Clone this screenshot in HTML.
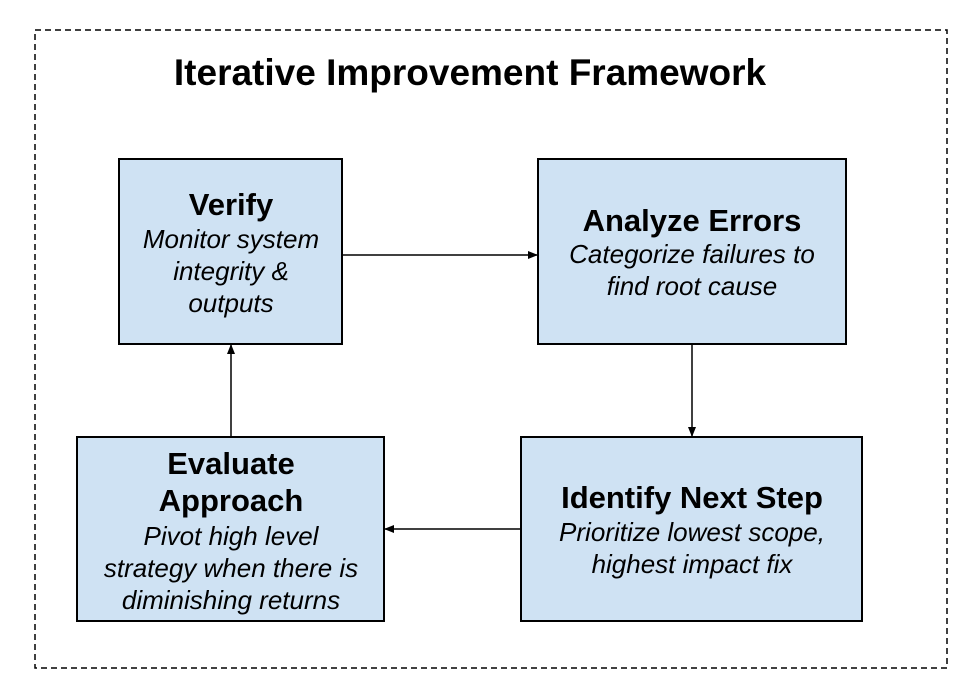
<!DOCTYPE html>
<html><head><style>body{margin:0;background:#fff}svg{display:block}</style></head><body>
<svg width="978" height="699" xmlns="http://www.w3.org/2000/svg" font-family="Liberation Sans, Arial, sans-serif">
<defs><marker id="a" markerWidth="10" markerHeight="8" refX="9" refY="4" orient="auto" markerUnits="userSpaceOnUse"><path d="M0,0 L10,4 L0,8 z" fill="#000"/></marker></defs>
<rect x="35" y="30" width="912" height="638" fill="none" stroke="#000" stroke-width="1.5" stroke-dasharray="6,4"/>
<text x="470" y="85" text-anchor="middle" font-weight="bold" font-size="37">Iterative Improvement Framework</text>
<g fill="#cfe2f3" stroke="#000" stroke-width="2">
<rect x="119" y="159" width="223" height="185"/>
<rect x="538" y="159" width="308" height="185"/>
<rect x="521" y="437" width="341" height="184"/>
<rect x="77" y="437" width="307" height="184"/>
</g>
<g stroke="#000" stroke-width="1.5">
<line x1="342" y1="255" x2="537" y2="255" marker-end="url(#a)"/>
<line x1="692" y1="344" x2="692" y2="436" marker-end="url(#a)"/>
<line x1="521" y1="529" x2="385" y2="529" marker-end="url(#a)"/>
<line x1="231" y1="437" x2="231" y2="345" marker-end="url(#a)"/>
</g>
<g text-anchor="middle" font-size="26" font-style="italic">
<text x="231" y="215" font-size="31" font-weight="bold" font-style="normal">Verify</text>
<text x="231" y="248">Monitor system</text>
<text x="231" y="280">integrity &amp;</text>
<text x="231" y="312">outputs</text>
<text x="692" y="231" font-size="31" font-weight="bold" font-style="normal">Analyze Errors</text>
<text x="692" y="263">Categorize failures to</text>
<text x="692" y="295">find root cause</text>
<text x="692" y="508" font-size="31" font-weight="bold" font-style="normal">Identify Next Step</text>
<text x="692" y="541">Prioritize lowest scope,</text>
<text x="692" y="573">highest impact fix</text>
<text x="231" y="474" font-size="31" font-weight="bold" font-style="normal">Evaluate</text>
<text x="231" y="511" font-size="31" font-weight="bold" font-style="normal">Approach</text>
<text x="231" y="545">Pivot high level</text>
<text x="231" y="577">strategy when there is</text>
<text x="231" y="609">diminishing returns</text>
</g>
</svg>
</body></html>
